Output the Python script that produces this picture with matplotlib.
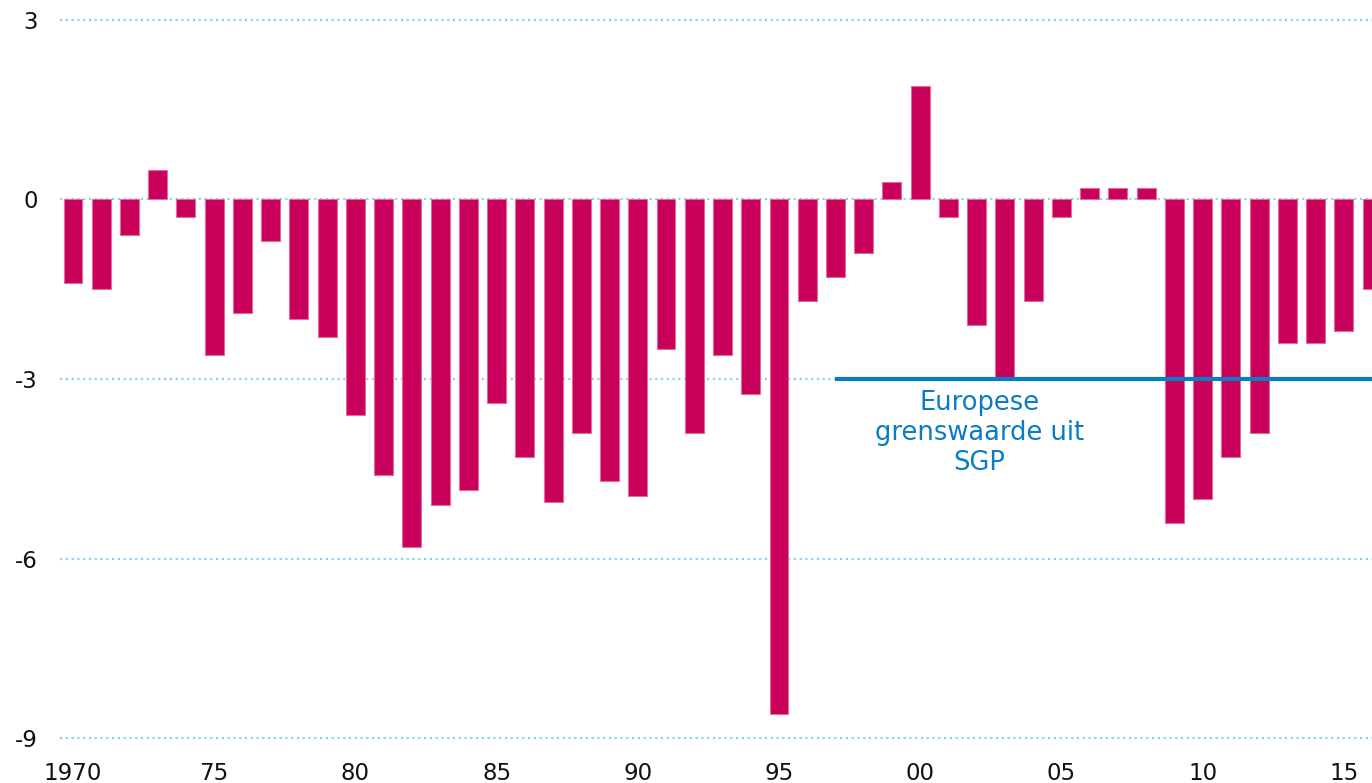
import numpy as np
import matplotlib
matplotlib.use("Agg")
import matplotlib.pyplot as plt

# begrotingssaldo (% bbp), 1970-2016
years = list(range(1970, 2017))
saldo = [
    -1.4, -1.5, -0.6, 0.5, -0.3, -2.6, -1.9, -0.7, -2.0, -2.3,
    -3.6, -4.6, -5.8, -5.1, -4.85, -3.4, -4.3, -5.05, -3.9, -4.7,
    -4.95, -2.5, -3.9, -2.6, -3.25, -8.6, -1.7, -1.3, -0.9, 0.3,
    1.9, -0.3, -2.1, -3.0, -1.7, -0.3, 0.2, 0.2, 0.2, -5.4,
    -5.0, -4.3, -3.9, -2.4, -2.4, -2.2, -1.5,
]
grens_start = 1997
grens_waarde = -3
y_ticks = [3, 0, -3, -6, -9]
x_ticks = [1970, 1975, 1980, 1985, 1990, 1995, 2000, 2005, 2010, 2015]
x_labels = ["1970", "75", "80", "85", "90", "95", "00", "05", "10", "15"]

BAR = "#c8005a"
BLUE = "#0a7cc4"
GRID = "#8fd0f2"

fig = plt.figure(figsize=(13.72, 7.83), dpi=100)
# ylim iets ruimer zodat de buitenste rasterlijnen niet worden afgekapt
ax = fig.add_axes([60 / 1372, 42 / 783, 1 - 60 / 1372, 724 / 783])

ax.bar(years, saldo, width=0.67, color=BAR, edgecolor="#e46a9c",
       linewidth=0.8, zorder=2)

ax.plot([grens_start, 2017], [grens_waarde, grens_waarde], color=BLUE,
        linewidth=3, zorder=3, solid_capstyle="butt")
ax.text(2002.1, -3.9, "Europese\ngrenswaarde uit\nSGP", color=BLUE,
        fontsize=18.5, ha="center", va="center", linespacing=1.2, zorder=4)

ax.set_xlim(1969.54, 2016.0)
ax.set_ylim(-9.05, 3.05)
ax.set_yticks(y_ticks)
ax.set_yticklabels([str(v) for v in y_ticks])
ax.set_xticks(x_ticks)
ax.set_xticklabels(x_labels)
ax.tick_params(axis="both", length=0, labelsize=16.5, colors="#111111")
ax.tick_params(axis="y", pad=16)
ax.tick_params(axis="x", pad=15)

ax.grid(axis="y", color=GRID, linestyle=(0, (1, 1.6)), linewidth=1.6, zorder=0)
ax.set_axisbelow(True)
for s in ax.spines.values():
    s.set_visible(False)

fig.savefig("out.png", dpi=100)
